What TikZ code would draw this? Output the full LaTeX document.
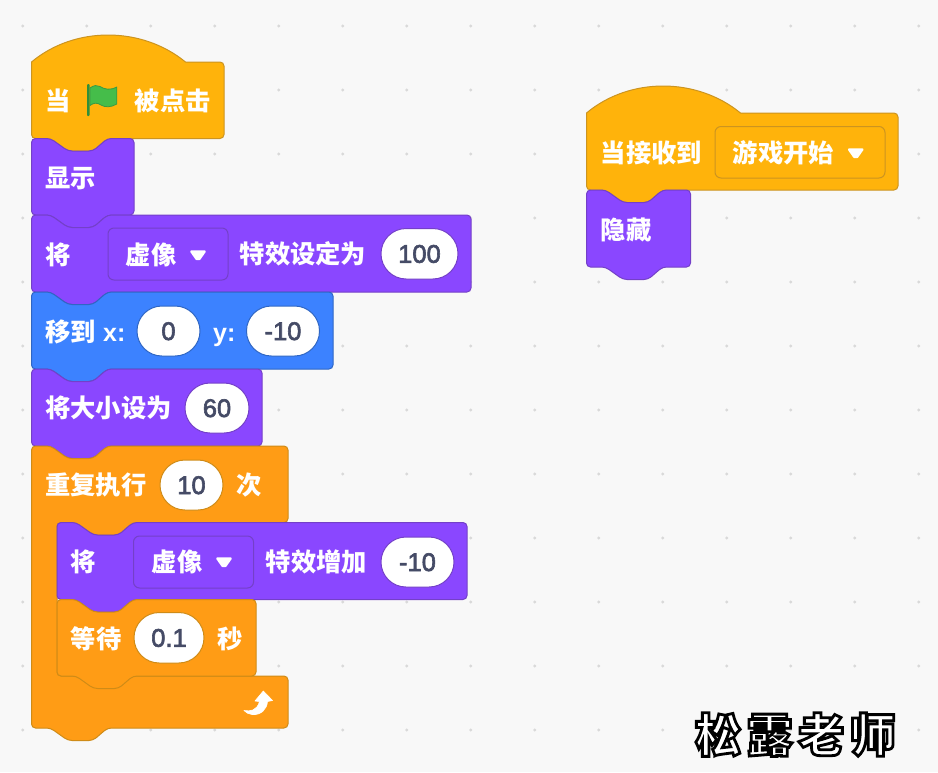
\documentclass[tikz,border=0pt]{standalone}
\usepackage{fontspec}
\setmainfont{Liberation Sans}
\newfontfamily\cjkfont{Noto Sans CJK SC}
\newfontfamily\wmfont[LetterSpace=12]{Noto Sans CJK SC}
\newfontfamily\numfont{Liberation Sans}
\newfontfamily\latfont{Liberation Sans}
\definecolor{bgc}{HTML}{F8F8F8}
\definecolor{dotc}{HTML}{D9D9D9}
\definecolor{hatc}{HTML}{FFB30B}
\definecolor{hatb}{HTML}{CC9420}
\definecolor{purc}{HTML}{8A47FF}
\definecolor{purb}{HTML}{7440C8}
\definecolor{bluc}{HTML}{3C82FF}
\definecolor{blub}{HTML}{2F66C4}
\definecolor{orac}{HTML}{FF9C15}
\definecolor{orab}{HTML}{CF8B17}
\definecolor{numc}{HTML}{454B66}
\definecolor{flagc}{HTML}{45BD4A}
\definecolor{flagb}{HTML}{3C9A42}
\definecolor{polec}{HTML}{2F8F3A}
\newcommand{\stackblock}[6]{% x, top, right, bottom, fill, border
  \draw[rounded corners=4pt,line width=1pt,fill=#5,draw=#6]
   (#1,#4) -- (#1,#2) -- ({#1+19},#2) -- ({#1+36.5},{#2+12.5}) -- ({#1+61.5},{#2+12.5}) -- ({#1+76},#2)
   -- (#3,#2) -- (#3,#4) -- ({#1+76},#4) -- ({#1+61.5},{#4+12.5}) -- ({#1+36.5},{#4+12.5}) -- ({#1+19},#4) -- cycle;}
\newcommand{\hatblock}[4]{% x, top, right, bottom
  \draw[line width=1pt,fill=hatc,draw=hatb]
   (#1,#2) .. controls ({#1+43},{#2-36}) and ({#1+110},{#2-36}) .. ({#1+154},#2)
   [rounded corners=4pt] -- (#3,#2) -- (#3,#4) -- ({#1+76},#4) -- ({#1+61.5},{#4+12.5}) -- ({#1+36.5},{#4+12.5}) -- ({#1+19},#4) -- (#1,#4) -- (#1,{#4-20}) [sharp corners] -- (#1,{#4-20}) -- cycle;}
\newcommand{\lbl}[4]{\node[lbltext,anchor=base west] (#1) at ({#2-0.5},{#3+9}) {#4};}
\newcommand{\lat}[4]{\node[lattext,anchor=base west] (#1) at (#2,{#3+9}) {#4};}
\newcommand{\pill}[7]{% name,x0,x1,y0,y1,border,text
  \draw[line width=1pt,fill=white,draw=#6,rounded corners={(#5-#4)/2*1pt-0.1pt}] (#2,#4) rectangle (#3,#5);
  \node[numtext,anchor=base] (#1) at ({(#2+#3)/2},{(#4+#5)/2+9}) {\special{pdf:code 0.27 0.294 0.4 RG 0.6 w 2 Tr}#7\special{pdf:code 0 Tr}};}
\newcommand{\ddbox}[6]{% x0,x1,y0,y1,fill,border
  \draw[line width=1pt,fill=#5,draw=#6,rounded corners=6pt] (#1,#3) rectangle (#2,#4);}
\newcommand{\ddtri}[2]{\fill[white,draw=white,line width=2.4pt,line join=round]
  ({#1-6.6},{#2-4}) -- ({#1+6.6},{#2-4}) -- ({#1+1.4},{#2+3.4}) -- ({#1-1.4},{#2+3.4}) -- cycle;}
\begin{document}
\begin{tikzpicture}[x=1pt,y=-1pt,
  lbltext/.style={inner sep=0pt,text=white,font=\cjkfont\bfseries\fontsize{25.3}{25.3}\selectfont},
  lattext/.style={inner sep=0pt,text=white,font=\latfont\bfseries\fontsize{25}{25}\selectfont},
  numtext/.style={inner sep=0pt,text=numc,font=\numfont\fontsize{25.5}{25.5}\selectfont},
  griddot/.style={fill=dotc,draw=none}]
\useasboundingbox (0,0) rectangle (938,772);
\fill[bgc] (0,0) rectangle (938,772);
\foreach \i in {0,...,14}{\foreach \j in {0,...,11}{
  \fill[griddot] ({22.7+64*\i},{26+64*\j}) circle (1.6pt);}}
% left stack
\hatblock{31.5}{62}{224}{138.5}
\stackblock{31.5}{138.5}{134}{215}{purc}{purb}
\stackblock{31.5}{215}{471}{292}{purc}{purb}
\stackblock{31.5}{292}{333}{369}{bluc}{blub}
\stackblock{31.5}{369}{262}{446}{purc}{purb}
% loop
\draw[rounded corners=4pt,line width=1pt,fill=orac,draw=orab]
  (31.5,728) -- (31.5,446) -- (50.5,446) -- (68,458.5) -- (93,458.5) -- (107.5,446) -- (288,446) -- (288,522.5)
  -- (133,522.5) -- (118.5,535) -- (93.5,535) -- (76,522.5) -- (57,522.5) -- (57,676) -- (288,676) -- (288,728)
  -- (107.5,728) -- (93,740.5) -- (68,740.5) -- (50.5,728) -- cycle;
\stackblock{57}{522.5}{467}{599.5}{purc}{purb}
\stackblock{57}{599.5}{256}{676}{orac}{orab}
% right stack
\hatblock{586.5}{113}{898}{190}
\stackblock{586.5}{190}{690.5}{267}{purc}{purb}
% flag
\fill[rounded corners=1pt,fill=polec] (87,84) rectangle (89.7,116);
\draw[fill=flagc,draw=flagb,line width=0.8pt,line join=round]
  (90,88) .. controls (94,85) and (97,85) .. (100,86.5) .. controls (105,89.5) and (110,90.5) .. (116.8,87)
  -- (116.8,104) .. controls (111,107.5) and (105,107.5) .. (101,105) .. controls (97,102.5) and (94,102.5) .. (90,105.5) -- cycle;
% texts
\lbl{t1}{45.5}{101}{当}
\lbl{t2}{135}{101}{被点击}
\lbl{t3}{45.5}{178}{显示}
\lbl{t4}{45.5}{255}{将}
\ddbox{108}{228}{228}{280}{purc}{purb}
\lbl{t5}{126}{255}{虚像}
\ddtri{198}{255.5}
\lbl{t6}{240}{254.5}{特效设定为}
\pill{n1}{381}{458}{228.5}{279}{purb}{100}
\lbl{t7}{45.5}{332}{移到}
\lat{t8}{103}{332}{x:}
\pill{n2}{137}{200}{306}{356}{blub}{0}
\lat{t9}{213}{332}{y:}
\pill{n3}{246.5}{319.5}{306}{356}{blub}{-10}
\lbl{t10}{45.5}{408}{将大小设为}
\pill{n4}{185}{249}{383}{433}{purb}{60}
\lbl{t11}{45.5}{485}{重复执行}
\pill{n5}{160}{223}{460}{510}{orab}{10}
\lbl{t12}{237}{485}{次}
\lbl{t13}{71}{562}{将}
\ddbox{133.5}{253.5}{536}{588}{purc}{purb}
\lbl{t14}{152}{562}{虚像}
\ddtri{224}{562.5}
\lbl{t15}{266}{562}{特效增加}
\pill{n6}{381}{454}{537}{587}{purb}{-10}
\lbl{t16}{71}{639}{等待}
\pill{n7}{134}{204}{612.5}{663}{orab}{0.1}
\lbl{t17}{218}{639}{秒}
\lbl{t18}{601}{153}{当接收到}
\ddbox{715}{885}{126.5}{178}{hatc}{hatb}
\lbl{t19}{733}{153}{游戏开始}
\ddtri{855.7}{153.5}
\lbl{t20}{601}{230}{隐藏}
% loop arrow
\fill[white,draw=white,line width=0.6pt,line join=round]
  (263.3,691) -- (272.5,700.5) -- (267.5,701.5) .. controls (267,709) and (261,715.5) .. (252,714.5)
  .. controls (249,714) and (246,713) .. (244,710.5) .. controls (250,711.5) and (257,711) .. (259.5,701.5)
  -- (255,701) -- cycle;
% watermark
\node[inner sep=0pt,anchor=base west,text=white,font=\wmfont\bfseries\fontsize{46}{46}\selectfont] (wm) at (695,752)
  {\special{pdf:code 0 0 0 RG 2.8 w 2 Tr}松露老师\special{pdf:code 0 Tr}};
\end{tikzpicture}
\end{document}
